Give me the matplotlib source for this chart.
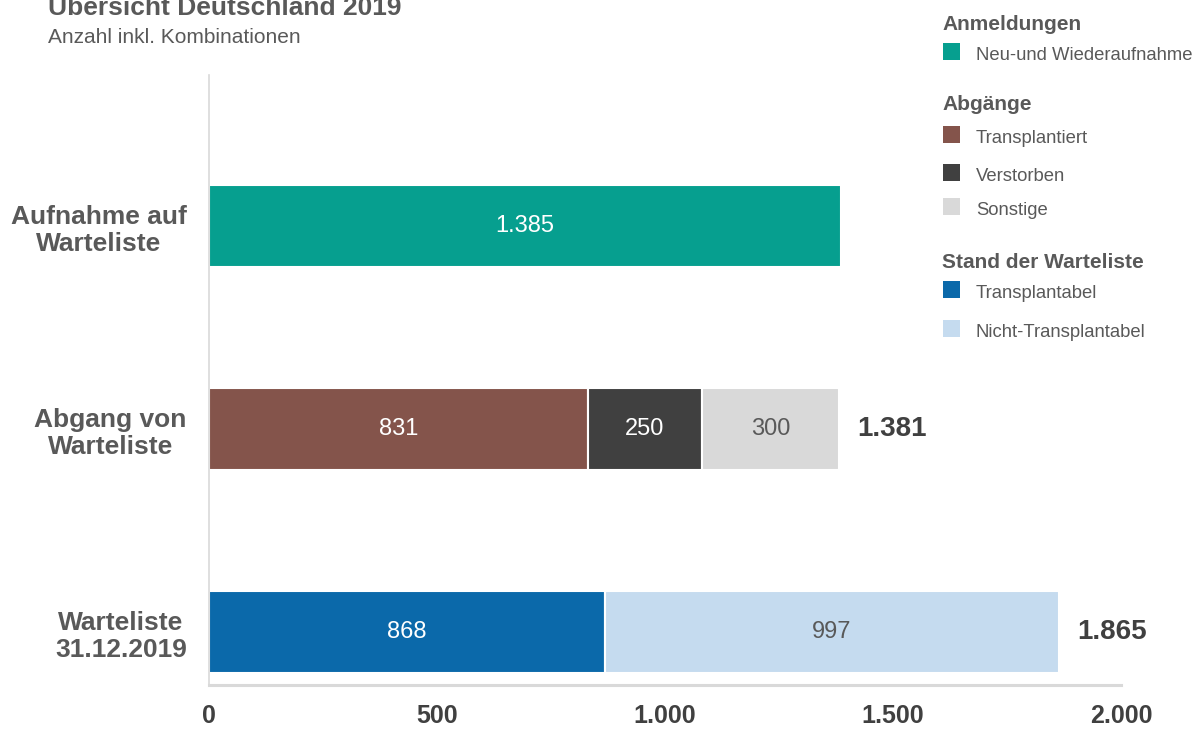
import matplotlib.pyplot as plt
from matplotlib.patches import Rectangle

plt.rcParams["font.family"] = ["Liberation Sans", "DejaVu Sans"]

# rows from top to bottom
categories = ["Aufnahme auf\nWarteliste", "Abgang von\nWarteliste", "Warteliste\n31.12.2019"]

anmeldungen = [1385]
abgaenge = [831, 250, 300]
stand = [868, 997]

anmeldungen_names = ["Neu-und Wiederaufnahme"]
abgaenge_names = ["Transplantiert", "Verstorben", "Sonstige"]
stand_names = ["Transplantabel", "Nicht-Transplantabel"]

anmeldungen_colors = ["#069f8f"]
abgaenge_colors = ["#84544b", "#404040", "#d9d9d9"]
stand_colors = ["#0b69aa", "#c5dbef"]

anmeldungen_text = ["white"]
abgaenge_text = ["white", "white", "#595959"]
stand_text = ["white", "#595959"]

show_total = [False, True, True]

xticks = [0, 500, 1000, 1500, 2000]


def de(v):
    return f"{v:,}".replace(",", ".")


fig = plt.figure(figsize=(12.02, 7.29), dpi=100)
ax = fig.add_axes([209 / 1202, 1 - 685 / 729, (1121 - 209) / 1202, (685 - 75) / 729])

rows = [
    (anmeldungen, anmeldungen_colors, anmeldungen_text),
    (abgaenge, abgaenge_colors, abgaenge_text),
    (stand, stand_colors, stand_text),
]
ypos = [2, 1, 0]

for y, (vals, cols, tcols), tot in zip(ypos, rows, show_total):
    left = 0
    for v, c, tc in zip(vals, cols, tcols):
        ax.barh(y, v, left=left, height=0.405, color=c, edgecolor="white", linewidth=1.5)
        ax.text(left + v / 2, y, de(v), ha="center", va="center", fontsize=17, color=tc)
        left += v
    if tot:
        ax.text(left + 40, y, de(sum(vals)), ha="left", va="center", fontsize=20,
                fontweight="bold", color="#404040")

ax.set_xlim(0, 2000)
ax.set_ylim(-0.261, 2.744)
ax.set_xticks(xticks)
ax.set_xticklabels([de(t) for t in xticks], fontsize=18, fontweight="bold", color="#404040")
ax.set_yticks(ypos)
ax.set_yticklabels(categories, fontsize=19, fontweight="bold", color="#595959",
                   multialignment="center")
ax.tick_params(axis="both", length=0)
ax.tick_params(axis="x", pad=14)
ax.tick_params(axis="y", pad=16)

for s in ["top", "right"]:
    ax.spines[s].set_visible(False)
ax.spines["left"].set_color("#d9d9d9")
ax.spines["left"].set_linewidth(1.2)
ax.spines["bottom"].set_color("#d9d9d9")
ax.spines["bottom"].set_linewidth(2.2)

# titles
fig.text(48 / 1202, 1 - 15 / 729, "Übersicht Deutschland 2019", fontsize=19,
         fontweight="bold", color="#595959", va="baseline")
fig.text(48 / 1202, 1 - 43 / 729, "Anzahl inkl. Kombinationen", fontsize=15,
         color="#595959", va="baseline")

# legend drawn by hand
def heading(y_px, txt):
    fig.text(942 / 1202, 1 - y_px / 729, txt, fontsize=15, fontweight="bold",
             color="#595959", va="baseline")


def item(y_px, txt, color):
    fig.patches.append(Rectangle((943 / 1202, 1 - y_px / 729), 17 / 1202, 17 / 729,
                                 transform=fig.transFigure, facecolor=color,
                                 edgecolor="none"))
    fig.text(976 / 1202, 1 - y_px / 729, txt, fontsize=13.3, color="#595959",
             va="baseline")


heading(30, "Anmeldungen")
item(60, anmeldungen_names[0], anmeldungen_colors[0])
heading(110, "Abgänge")
for yy, n, c in zip([143, 181, 215], abgaenge_names, abgaenge_colors):
    item(yy, n, c)
heading(268, "Stand der Warteliste")
for yy, n, c in zip([298, 337], stand_names, stand_colors):
    item(yy, n, c)

fig.savefig("out.png", dpi=100)
